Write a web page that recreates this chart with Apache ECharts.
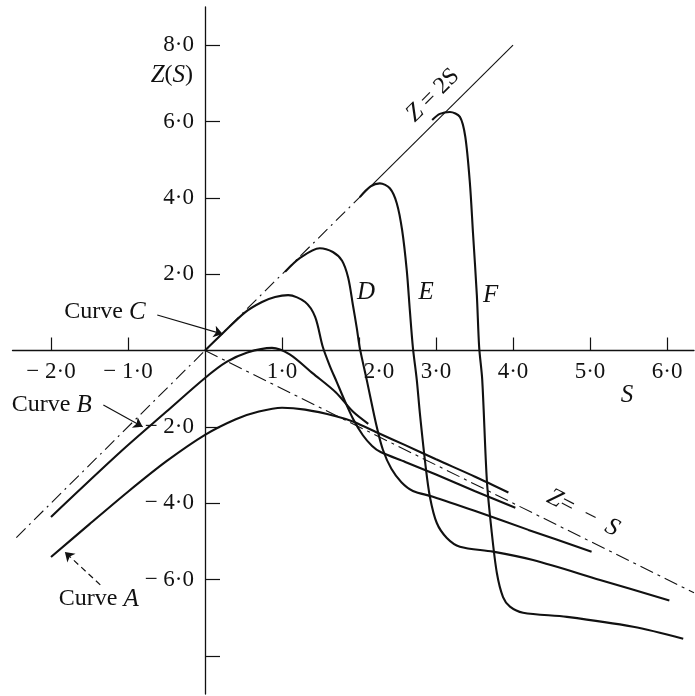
<!DOCTYPE html>
<html><head><meta charset="utf-8">
<script src="https://cdn.jsdelivr.net/npm/echarts@6/dist/echarts.min.js"></script>
<style>html,body{margin:0;padding:0;background:#fff}#c{width:695px;height:696px}</style>
</head><body><div id="c"></div>
<script>
// ---- data (S, Z) ----
const xTicks = [-2, -1, 1, 2, 3, 4, 5, 6];
const yTicks = [-8, -6, -4, -2, 2, 4, 6, 8];
const yLabelValues = [-6, -4, -2, 2, 4, 6, 8];

const curveA = [[-2.0,-5.41],[-1.5,-4.55],[-1.0,-3.7],[-0.5,-2.9],[0,-2.21],[0.4,-1.8],[0.7,-1.6],[1.0,-1.5],[1.3,-1.55],[1.7,-1.72],[1.92,-1.86],[2.27,-2.18],[2.6,-2.48],[3.0,-2.85],[3.5,-3.3],[3.94,-3.72]];
const curveB = [[-2.0,-4.36],[-1.1,-2.66],[-0.5,-1.6],[0,-0.72],[0.28,-0.3],[0.55,-0.05],[0.87,0.07],[1.1,-0.1],[1.4,-0.6],[1.7,-1.1],[1.92,-1.6],[2.12,-1.92]];
const curveC = [[0,0],[0.23,0.45],[0.52,1.0],[0.74,1.27],[0.91,1.4],[1.08,1.45],[1.3,1.27],[1.43,0.88],[1.53,0.09],[1.62,-0.4],[1.71,-0.82],[1.8,-1.25],[1.92,-1.78],[2.05,-2.22],[2.17,-2.5],[2.28,-2.66],[2.6,-2.92],[3.0,-3.25],[3.5,-3.68],[4.03,-4.12]];
const curveD = [[1.04,2.06],[1.23,2.42],[1.49,2.68],[1.66,2.58],[1.78,2.35],[1.86,1.9],[1.92,1.2],[1.97,0.6],[2.01,0.07],[2.1,-0.77],[2.23,-2.0],[2.31,-2.6],[2.42,-3.1],[2.55,-3.45],[2.7,-3.68],[2.96,-3.83],[3.5,-4.2],[4.2,-4.7],[5.02,-5.27]];
const curveE = [[2.01,4.02],[2.15,4.3],[2.27,4.38],[2.4,4.25],[2.49,3.86],[2.56,3.15],[2.62,2.1],[2.66,1.05],[2.7,0.07],[2.75,-0.77],[2.79,-1.64],[2.86,-2.95],[2.92,-3.83],[3.01,-4.52],[3.14,-4.91],[3.31,-5.14],[3.74,-5.27],[4.26,-5.49],[5.13,-6.01],[6.03,-6.55]];
const curveF = [[2.95,6.04],[3.05,6.2],[3.18,6.25],[3.31,6.12],[3.38,5.6],[3.44,4.38],[3.48,3.08],[3.53,1.45],[3.56,0.09],[3.6,-0.77],[3.66,-3.4],[3.72,-4.7],[3.79,-5.83],[3.87,-6.46],[3.96,-6.71],[4.13,-6.87],[4.7,-6.98],[5.56,-7.24],[6.21,-7.55]];
const line2S_dash = [[-2.45,-4.9],[2.0,4.0]];
const line2S_solid = [[2.0,4.0],[4.0,8.0]];
const lineMinusS = [[0,0],[6.35,-6.35]];

const arrowC = [[-0.62,0.93],[0.23,0.43]];
const arrowB = [[-1.32,-1.43],[-0.81,-2.0]];
const arrowA = [[-1.36,-6.14],[-1.82,-5.28]];

const notes = [
  {text:'{i|Z}{r|(}{i|S}{r|)}', at:[-0.43,7.22], rot:0},
  {text:'{i|S}', at:[5.48,-1.17], rot:0},
  {text:'{i|D}', at:[2.09,1.51], rot:0},
  {text:'{i|E}', at:[2.87,1.51], rot:0},
  {text:'{i|F}', at:[3.71,1.45], rot:0},
  {text:'{i|Z}{r| = 2S}', at:[2.96,6.69], rot:45},
  {text:'{i|Z}{r|=  −  }{i|S}', at:[4.91,-4.26], rot:-27},
  {text:'{r|Curve }{i|C}', at:[-1.30,1.01], rot:0},
  {text:'{r|Curve }{i|B}', at:[-1.99,-1.43], rot:0},
  {text:'{r|Curve }{i|A}', at:[-1.38,-6.51], rot:0}
];

const FONT = 'Liberation Serif';
const INK = '#111';
function fmt(v){ return (v < 0 ? '− ' : '') + Math.abs(v).toFixed(1).replace('.', '·'); }

const X_MIN = -2.5, X_MAX = 6.35, Y_MIN = -9, Y_MAX = 9;
const G = {left:12.5, top:7, width:681.5, height:687};
// put the axes through the origin by shifting them from the grid edges
const xAxisOffset = -G.height * (0 - Y_MIN) / (Y_MAX - Y_MIN);
const yAxisOffset = -G.width * (0 - X_MIN) / (X_MAX - X_MIN);

const chart = echarts.init(document.getElementById('c'), null, {renderer:'canvas'});
function curve(name, data){
  return {name, type:'line', data, showSymbol:false, smooth:0.3,
    lineStyle:{color:INK, width:2.1}, silent:true, z:3};
}
function straight(data, type, width){
  return {type:'line', data, showSymbol:false, lineStyle:{color:INK, width, type}, silent:true, z:2};
}
function arrow(coords, type){
  return {type:'lines', coordinateSystem:'cartesian2d', symbol:['none','arrow'], symbolSize:9,
    lineStyle:{color:INK, width:1.2, type, opacity:1}, data:[{coords}], silent:true, z:4};
}

chart.setOption({
  animation:false,
  backgroundColor:'#fff',
  grid:Object.assign({containLabel:false, outerBoundsMode:'none'}, G),
  xAxis:{type:'value', min:X_MIN, max:X_MAX, position:'bottom', offset:xAxisOffset,
    axisLine:{onZero:false, lineStyle:{color:INK, width:1.3}},
    axisTick:{show:true, inside:true, length:13, customValues:xTicks, lineStyle:{color:INK, width:1.2}},
    axisLabel:{customValues:xTicks, margin:10, color:INK, fontFamily:FONT, fontSize:23,
      formatter:function(v){ return v === 2 ? '{s|' + fmt(v) + '}' : fmt(v); },
      rich:{s:{fontFamily:FONT, fontSize:23, color:INK, padding:[0,0,0,40]}}},
    splitLine:{show:false}},
  yAxis:{type:'value', min:Y_MIN, max:Y_MAX, position:'left', offset:yAxisOffset,
    axisLine:{onZero:false, lineStyle:{color:INK, width:1.3}},
    axisTick:{show:true, inside:true, length:15, customValues:yTicks, lineStyle:{color:INK, width:1.2}},
    axisLabel:{customValues:yLabelValues, margin:11, color:INK, fontFamily:FONT, fontSize:23, formatter:fmt},
    splitLine:{show:false}},
  series:[
    straight(line2S_dash, [13,5,2,5], 1.1),
    straight(line2S_solid, 'solid', 1.1),
    straight(lineMinusS, [14,5,3,5], 1.1),
    curve('A', curveA), curve('B', curveB), curve('C', curveC),
    curve('D', curveD), curve('E', curveE), curve('F', curveF),
    arrow(arrowC, 'solid'), arrow(arrowB, 'solid'), arrow(arrowA, [6,4])
  ]
});

const rich = {
  i:{fontFamily:FONT, fontStyle:'italic', fontSize:25, fill:INK},
  r:{fontFamily:FONT, fontSize:24, fill:INK}
};
chart.setOption({
  graphic: notes.map(n => {
    const p = chart.convertToPixel({gridIndex:0}, n.at);
    return {type:'text', x:p[0], y:p[1], rotation:n.rot*Math.PI/180, z:10,
      style:{text:n.text, rich, align:'center', verticalAlign:'middle', fill:INK, font:'24px "Liberation Serif"'}};
  })
});
</script>
</body></html>
